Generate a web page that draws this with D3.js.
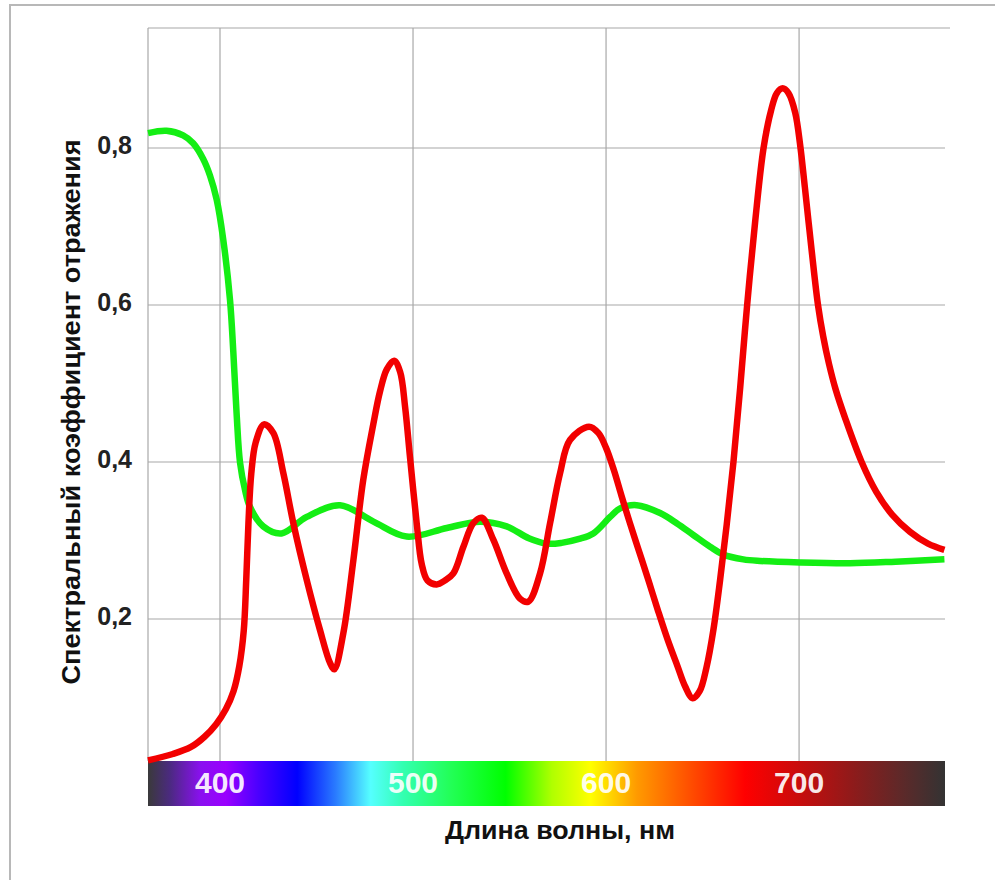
<!DOCTYPE html>
<html>
<head>
<meta charset="utf-8">
<script src="https://cdn.jsdelivr.net/npm/d3@7/dist/d3.min.js"></script>
<style>
  html, body { margin: 0; padding: 0; background: #fff; }
  svg { display: block; }
  text { font-family: "Liberation Sans", Arial, sans-serif; font-weight: bold; }
</style>
</head>
<body>
<svg id="chart" width="995" height="880"></svg>
<script>
// Wavelength range shown, nm
const wlDomain = [362.7, 775.6];

// Red curve: wavelength (nm) and reflectance
const redWl  = [362.7, 375.6, 385.0, 392.0, 398.0, 403.0, 407.0, 410.0, 412.3, 413.6, 414.7, 416.2, 418.5, 422.8, 427.6, 432.8, 438.0, 444.9, 451.8, 457.0, 459.2, 463.9, 469.1, 474.2, 479.4, 482.9, 486.4, 490.2, 493.3, 495.9, 498.4, 501.9, 504.5, 507.5, 512.3, 516.5, 520.9, 526.1, 531.2, 535.6, 541.6, 548.5, 555.4, 559.7, 565.8, 571.0, 576.2, 581.3, 591.2, 596.0, 600.0, 604.0, 608.0, 612.0, 617.0, 622.0, 627.0, 632.0, 637.0, 641.0, 644.9, 648.5, 652.0, 655.6, 659.1, 662.5, 666.0, 669.5, 673.1, 677.2, 681.6, 685.5, 688.5, 691.5, 694.5, 698.0, 700.5, 703.0, 706.5, 709.8, 712.5, 715.5, 719.0, 724.0, 732.4, 740.0, 748.2, 757.5, 766.8, 775.3];
const redVal = [0.020, 0.028, 0.037, 0.050, 0.066, 0.085, 0.108, 0.140, 0.185, 0.250, 0.320, 0.385, 0.425, 0.448, 0.437, 0.386, 0.322, 0.250, 0.186, 0.144, 0.136, 0.182, 0.275, 0.377, 0.448, 0.490, 0.518, 0.529, 0.515, 0.470, 0.407, 0.322, 0.270, 0.249, 0.244, 0.249, 0.258, 0.292, 0.322, 0.329, 0.301, 0.258, 0.226, 0.222, 0.258, 0.322, 0.386, 0.428, 0.445, 0.437, 0.418, 0.390, 0.357, 0.325, 0.287, 0.249, 0.210, 0.173, 0.140, 0.114, 0.099, 0.108, 0.138, 0.186, 0.250, 0.320, 0.400, 0.495, 0.600, 0.705, 0.800, 0.848, 0.870, 0.876, 0.870, 0.845, 0.805, 0.750, 0.670, 0.600, 0.560, 0.525, 0.492, 0.455, 0.400, 0.362, 0.333, 0.311, 0.296, 0.288];

// Green curve: wavelength (nm) and reflectance
const greenWl  = [362.7, 372.3, 380.9, 386.1, 391.3, 394.8, 398.3, 401.7, 405.2, 406.9, 408.6, 410.4, 413.0, 415.5, 422.4, 431.9, 444.9, 462.2, 479.5, 496.7, 517.5, 534.7, 548.5, 560.0, 569.3, 577.0, 586.0, 593.4, 602.1, 607.3, 615.9, 628.0, 636.6, 645.2, 653.9, 660.8, 671.1, 679.8, 700.5, 726.4, 750.0, 775.3];
const greenVal = [0.819, 0.822, 0.816, 0.806, 0.786, 0.765, 0.734, 0.683, 0.606, 0.540, 0.462, 0.399, 0.364, 0.343, 0.318, 0.309, 0.330, 0.345, 0.324, 0.305, 0.316, 0.324, 0.318, 0.303, 0.296, 0.297, 0.302, 0.309, 0.330, 0.341, 0.345, 0.335, 0.322, 0.307, 0.292, 0.282, 0.276, 0.274, 0.272, 0.271, 0.273, 0.276];

// Axis ticks
const xTicks = [400, 500, 600, 700];
const yTicks = [0.2, 0.4, 0.6, 0.8];
const yTickLabels = ["0,2", "0,4", "0,6", "0,8"];

// Visible spectrum colours along the wavelength bar
const spectrumWl     = [362.7, 374, 390, 403, 420, 440, 460, 478, 495, 520, 548, 572, 592, 616, 645, 672, 700, 730, 755, 775.6];
const spectrumColors = ["#3a3a3a", "#4b2a80", "#8a10f0", "#9a00ff", "#4a00ff", "#0000ff", "#2a7cff", "#55ffff", "#33ffb0", "#22ff55", "#00ff00", "#b0ff00", "#ffff00", "#ff9a00", "#ff4a00", "#ff0000", "#c80c0c", "#8a1c1c", "#5a2a2a", "#333333"];

const xTitle = "Длина волны, нм";
const yTitle = "Спектральный коэффициент отражения";

const svg = d3.select("#chart");

const plot = { left: 148, right: 945, top: 28, bottom: 761 };
const x = d3.scaleLinear().domain(wlDomain).range([plot.left, plot.right]);
const y = d3.scaleLinear().domain([0, 0.8]).range([776, 148]);

// outer frame
svg.append("rect")
  .attr("x", 10).attr("y", 5)
  .attr("width", 1100).attr("height", 1000)
  .attr("fill", "none").attr("stroke", "#b8b8b8").attr("stroke-width", 2);

// grid
const grid = svg.append("g").attr("stroke", "#a8a8a8").attr("stroke-width", 1.2);
grid.append("line")
  .attr("x1", plot.left).attr("x2", 950)
  .attr("y1", plot.top).attr("y2", plot.top);
grid.selectAll("line.h").data(yTicks).join("line")
  .attr("class", "h")
  .attr("x1", plot.left).attr("x2", plot.right)
  .attr("y1", d => y(d)).attr("y2", d => y(d));
grid.append("line")
  .attr("x1", plot.left).attr("x2", plot.left)
  .attr("y1", plot.top).attr("y2", plot.bottom);
grid.selectAll("line.v").data(xTicks).join("line")
  .attr("class", "v")
  .attr("x1", d => x(d)).attr("x2", d => x(d))
  .attr("y1", plot.top).attr("y2", plot.bottom);

// y tick labels
svg.append("g").selectAll("text").data(yTicks).join("text")
  .attr("x", 132)
  .attr("y", d => y(d) + 6)
  .attr("text-anchor", "end")
  .attr("font-size", 25)
  .attr("fill", "#222")
  .text((d, i) => yTickLabels[i]);

// spectrum bar
const defs = svg.append("defs");
const grad = defs.append("linearGradient")
  .attr("id", "spectrum")
  .attr("gradientUnits", "userSpaceOnUse")
  .attr("x1", x(wlDomain[0])).attr("x2", x(wlDomain[1]))
  .attr("y1", 0).attr("y2", 0);
grad.selectAll("stop").data(spectrumWl).join("stop")
  .attr("offset", d => (x(d) - x(wlDomain[0])) / (x(wlDomain[1]) - x(wlDomain[0])))
  .attr("stop-color", (d, i) => spectrumColors[i]);

svg.append("rect")
  .attr("x", x(wlDomain[0])).attr("y", 761)
  .attr("width", x(wlDomain[1]) - x(wlDomain[0]))
  .attr("height", 45)
  .attr("fill", "url(#spectrum)");

svg.append("g").selectAll("text").data(xTicks).join("text")
  .attr("x", d => x(d))
  .attr("y", 793)
  .attr("text-anchor", "middle")
  .attr("font-size", 30)
  .attr("fill", "#fff")
  .attr("fill-opacity", 0.93)
  .text(d => d);

// curves
const line = d3.line()
  .x(d => x(d[0]))
  .y(d => y(d[1]))
  .curve(d3.curveCatmullRom.alpha(0.5));

const greenPts = greenWl.map((w, i) => [w, greenVal[i]]);
const redPts = redWl.map((w, i) => [w, redVal[i]]);

svg.append("path")
  .attr("d", line(greenPts))
  .attr("fill", "none")
  .attr("stroke", "#14ee14")
  .attr("stroke-width", 6.5)
  .attr("stroke-linejoin", "round");

svg.append("path")
  .attr("d", line(redPts))
  .attr("fill", "none")
  .attr("stroke", "#f20000")
  .attr("stroke-width", 6.5)
  .attr("stroke-linejoin", "round");

// axis titles
svg.append("text")
  .attr("x", 560).attr("y", 839)
  .attr("text-anchor", "middle")
  .attr("font-size", 25)
  .attr("textLength", 230)
  .attr("lengthAdjust", "spacingAndGlyphs")
  .attr("fill", "#111")
  .text(xTitle);

svg.append("text")
  .attr("transform", "translate(80,412) rotate(-90)")
  .attr("text-anchor", "middle")
  .attr("font-size", 25)
  .attr("textLength", 545)
  .attr("lengthAdjust", "spacingAndGlyphs")
  .attr("fill", "#111")
  .text(yTitle);
</script>
</body>
</html>
